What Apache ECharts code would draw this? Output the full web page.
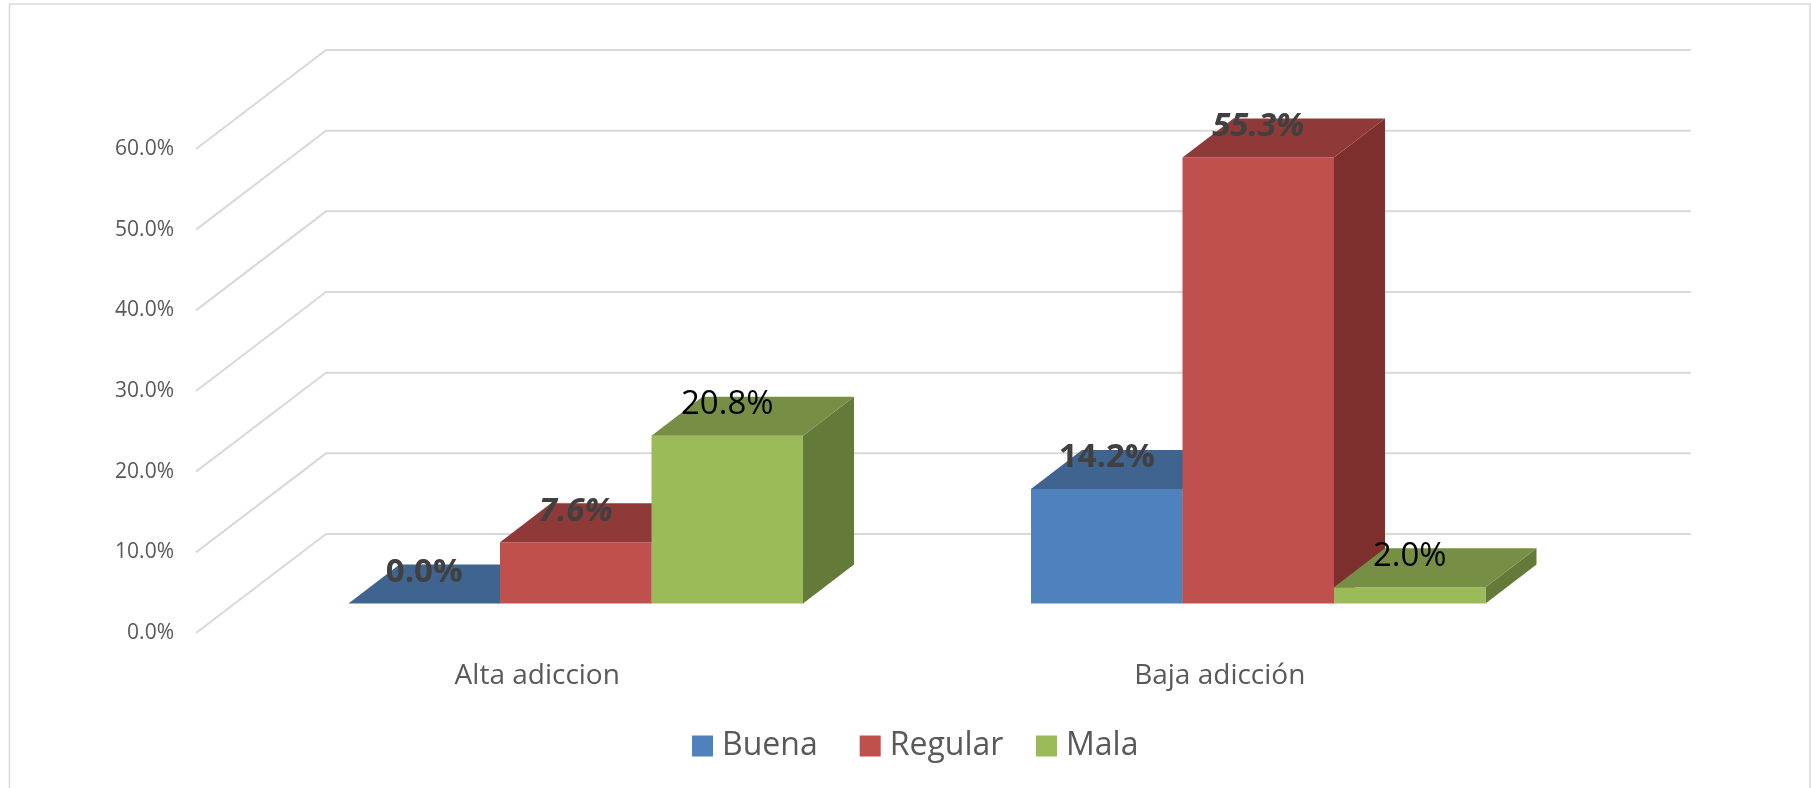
<!DOCTYPE html>
<html>
<head>
<meta charset="utf-8">
<title>Adiccion</title>
<script src="https://cdn.jsdelivr.net/npm/echarts@6/dist/echarts.min.js"></script>
<style>
  html, body { margin: 0; padding: 0; background: #fff; }
  #chart { width: 1811px; height: 788px; }
</style>
</head>
<body>
<div id="chart"></div>
<script>
  var categories = ['Alta adiccion', 'Baja adicción'];
  var seriesNames = ['Buena', 'Regular', 'Mala'];
  var buena = [0.0, 14.2];
  var regular = [7.6, 55.3];
  var mala = [20.8, 2.0];
  var ticks = [0, 10, 20, 30, 40, 50, 60];

  // floor depth of the fake 3d box, and where the bars stand on it
  var FLOOR_DX = 130, FLOOR_DY = 99;
  var BAR_DX = 51, BAR_DY = 39;
  var SHIFT_X = 38.5, SHIFT_Y = 29.5;
  var BAR_RATIO = 0.222;

  var FONT = '"Open Sans", "Noto Sans", sans-serif';
  var GRID_COLOR = '#D9D9D9';

  var faces = [
    { front: '#4F81BD', top: '#3F648F', side: '#37567A' },
    { front: '#C0504D', top: '#8F3A38', side: '#7D2F2D' },
    { front: '#9BBB59', top: '#778E45', side: '#647A39' }
  ];
  var labelStyles = [
    { fill: '#404040', fontWeight: 'bold', fontStyle: 'normal' },
    { fill: '#404040', fontWeight: 'bold', fontStyle: 'italic' },
    { fill: '#000000', fontWeight: 'normal', fontStyle: 'normal' }
  ];

  function renderGridLine(params, api) {
    var v = api.value(1);
    var front = api.coord([0, v]);
    var band = api.size([1, 0])[0];
    var x0 = front[0] - band / 2;
    var y0 = front[1];
    var x1 = x0 + FLOOR_DX;
    var y1 = y0 - FLOOR_DY;
    var x2 = x1 + band * categories.length;
    return {
      type: 'polyline',
      shape: { points: [[x0, y0], [x1, y1], [x2, y1]] },
      style: { fill: null, stroke: GRID_COLOR, lineWidth: 2 },
      silent: true
    };
  }

  function makeBarRender(idx) {
    return function (params, api) {
      var cat = api.value(0);
      var val = api.value(1);
      var band = api.size([1, 0])[0];
      var w = band * BAR_RATIO;
      var base = api.coord([cat, 0]);
      var top = api.coord([cat, val]);
      var xl = base[0] + SHIFT_X + (idx - 1.5) * w;
      var xr = xl + w;
      var yb = base[1] - SHIFT_Y;
      var yt = top[1] - SHIFT_Y;
      var f = faces[idx];
      var children = [];
      if (val > 0) {
        children.push({
          type: 'polygon',
          shape: { points: [[xr, yb], [xr + BAR_DX, yb - BAR_DY], [xr + BAR_DX, yt - BAR_DY], [xr, yt]] },
          style: { fill: f.side }
        });
        children.push({
          type: 'rect',
          shape: { x: xl, y: yt, width: w, height: yb - yt },
          style: { fill: f.front }
        });
      }
      children.push({
        type: 'polygon',
        shape: { points: [[xl, yt], [xr, yt], [xr + BAR_DX, yt - BAR_DY], [xl + BAR_DX, yt - BAR_DY]] },
        style: { fill: f.top }
      });
      return { type: 'group', children: children };
    };
  }

  // labels go in their own series so that later bars never cover them
  function makeLabelRender(idx) {
    return function (params, api) {
      var cat = api.value(0);
      var val = api.value(1);
      var band = api.size([1, 0])[0];
      var w = band * BAR_RATIO;
      var base = api.coord([cat, 0]);
      var top = api.coord([cat, val]);
      var s = labelStyles[idx];
      return {
        type: 'text',
        x: base[0] + SHIFT_X + (idx - 1) * w,
        y: top[1] - SHIFT_Y - 31,
        style: {
          text: val.toFixed(1) + '%',
          fill: s.fill,
          font: s.fontStyle + ' ' + s.fontWeight + ' 33px ' + FONT,
          align: 'center',
          verticalAlign: 'middle'
        },
        silent: true
      };
    };
  }

  function toPairs(values) {
    return values.map(function (v, i) { return [i, v]; });
  }

  var allValues = [buena, regular, mala];
  var series = [{
    type: 'custom',
    renderItem: renderGridLine,
    data: ticks.map(function (t) { return [0, t]; }),
    encode: { x: 0, y: 1 },
    clip: false,
    silent: true,
    z: 1
  }];
  seriesNames.forEach(function (name, i) {
    series.push({
      name: name,
      type: 'custom',
      renderItem: makeBarRender(i),
      data: toPairs(allValues[i]),
      encode: { x: 0, y: 1 },
      itemStyle: { color: faces[i].front },
      clip: false,
      z: 2 + i
    });
  });
  seriesNames.forEach(function (name, i) {
    series.push({
      type: 'custom',
      renderItem: makeLabelRender(i),
      data: toPairs(allValues[i]),
      encode: { x: 0, y: 1 },
      clip: false,
      silent: true,
      z: 10
    });
  });

  // legend is split in two so the last gap can be tighter than the first
  var legendBase = {
    top: 725,
    icon: 'rect',
    itemWidth: 21,
    itemHeight: 21,
    itemGap: 42,
    textStyle: { color: '#595959', fontFamily: FONT, fontSize: 32, padding: [0, 0, 0, 4] }
  };

  var chart = echarts.init(document.getElementById('chart'), null, { renderer: 'canvas' });
  chart.setOption({
    animation: false,
    backgroundColor: '#fff',
    graphic: [{
      type: 'rect',
      shape: { x: 9.5, y: 4, width: 1800.5, height: 800 },
      style: { fill: 'none', stroke: GRID_COLOR, lineWidth: 1.5 },
      silent: true,
      z: 0
    }],
    grid: { left: 196, right: 250, top: 149, bottom: 155 },
    xAxis: {
      type: 'category',
      data: categories,
      axisLine: { show: false },
      axisTick: { show: false },
      splitLine: { show: false },
      axisLabel: { color: '#595959', fontFamily: FONT, fontSize: 28, margin: 29 }
    },
    yAxis: {
      type: 'value',
      min: 0,
      max: 60,
      interval: 10,
      axisLine: { show: false },
      axisTick: { show: false },
      splitLine: { show: false },
      axisLabel: {
        color: '#595959',
        fontFamily: FONT,
        fontSize: 21,
        margin: 22,
        padding: [5, 0, 0, 0],
        formatter: function (v) { return v.toFixed(1) + '%'; }
      }
    },
    legend: [
      Object.assign({}, legendBase, { data: seriesNames.slice(0, 2), left: 687 }),
      Object.assign({}, legendBase, { data: seriesNames.slice(2), left: 1031 })
    ],
    series: series
  });
</script>
</body>
</html>
